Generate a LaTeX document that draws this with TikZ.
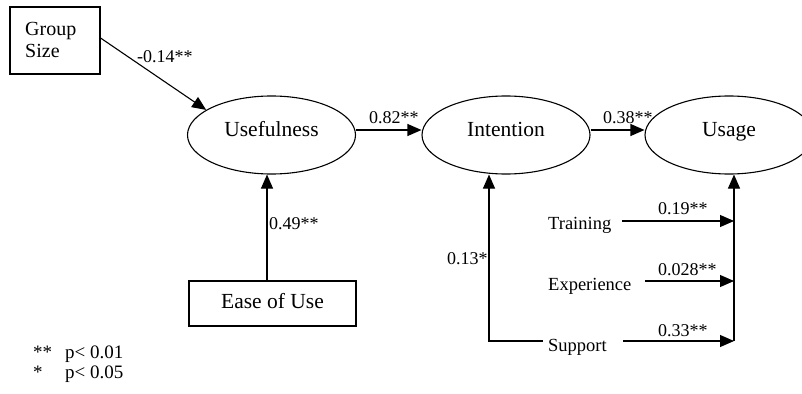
\documentclass[tikz,border=0pt]{standalone}
\usepackage{fontspec}
\setmainfont{Liberation Serif}
\usetikzlibrary{arrows.meta,shapes.geometric}
\begin{document}
\begin{tikzpicture}[x=1pt,y=-1pt,
  arr/.style={draw, line width=1.1pt, -{Triangle[length=14pt,width=12pt]}},
  ln/.style={draw, line width=1.1pt},
  latent/.style={ellipse, draw, line width=1.1pt, minimum width=168pt, minimum height=78pt,
    inner sep=0pt, font=\fontsize{21.5}{24}\selectfont, text height=12pt, text depth=10pt},
  obs/.style={rectangle, draw, line width=1.1pt, inner sep=0pt},
  lbl/.style={anchor=base west, inner sep=0pt, font=\fontsize{18}{20}\selectfont},
  txt/.style={anchor=base west, inner sep=0pt, font=\fontsize{18.5}{20}\selectfont},
  big/.style={anchor=base west, inner sep=0pt, font=\fontsize{20}{22}\selectfont},
  leg/.style={anchor=base west, inner sep=0pt, font=\fontsize{19}{21}\selectfont}]
\useasboundingbox (0,0) rectangle (802,393);
\clip (0,0) rectangle (802,393);

% Group Size box
\node[obs, minimum width=90pt, minimum height=67pt] (gs) at (55,40.5) {};
\node[big] (gs1) at (25,36) {Group};
\node[big] (gs2) at (25,58) {Size};

% latent variables
\node[latent] (use) at (271.5,135) {Usefulness};
\node[latent] (int) at (506,135) {Intention};
\node[latent] (usa) at (729,135) {Usage};

% Ease of Use box
\node[obs, minimum width=167pt, minimum height=45pt, font=\fontsize{21.5}{24}\selectfont,
  text height=14pt, text depth=5pt] (eou) at (272.5,303.5) {Ease of Use};

% moderators
\node[txt] (tr) at (548,229) {Training};
\node[txt] (ex) at (548,290) {Experience};
\node[txt] (su) at (548,351) {Support};

% coordinates
\coordinate (eoutop) at (267,281);
\coordinate (corner) at (489,341);
\coordinate (suL) at (543,341);
\coordinate (trS) at (622,221);
\coordinate (exS) at (645,281);
\coordinate (suS) at (623,341);
\coordinate (busT) at (734,221);
\coordinate (busE) at (734,281);
\coordinate (busB) at (734,341);

% connectors
\draw[arr] ([yshift=2.5pt]gs.east) -- (use.159);
\draw[arr] ([yshift=5pt]use.east) -- ([yshift=5pt]int.west);
\draw[arr] ([yshift=5pt]int.east) -- ([yshift=5pt]usa.west);
\draw[arr] (eoutop) -- (eoutop |- use.south);
\draw[arr] (suL) -- (corner) -- (corner |- int.south);
\draw[arr] (trS) -- (busT);
\draw[arr] (exS) -- (busE);
\draw[arr] (suS) -- (busB);
\draw[arr] (busB) -- (busB |- usa.south);

% path labels
\node[lbl] (l1) at (137,63) {-0.14**};
\node[lbl] (l2) at (369,123) {0.82**};
\node[lbl] (l3) at (603,123) {0.38**};
\node[lbl] (l4) at (269,229) {0.49**};
\node[lbl] (l5) at (447,264) {0.13*};
\node[lbl] (l6) at (658,214) {0.19**};
\node[lbl] (l7) at (658,275) {0.028**};
\node[lbl] (l8) at (658,336) {0.33**};

% legend
\node[leg] (k1) at (33,358) {**};
\node[leg] (k2) at (65,358) {p< 0.01};
\node[leg] (k3) at (33,378) {*};
\node[leg] (k4) at (65,378) {p< 0.05};
\end{tikzpicture}
\end{document}
